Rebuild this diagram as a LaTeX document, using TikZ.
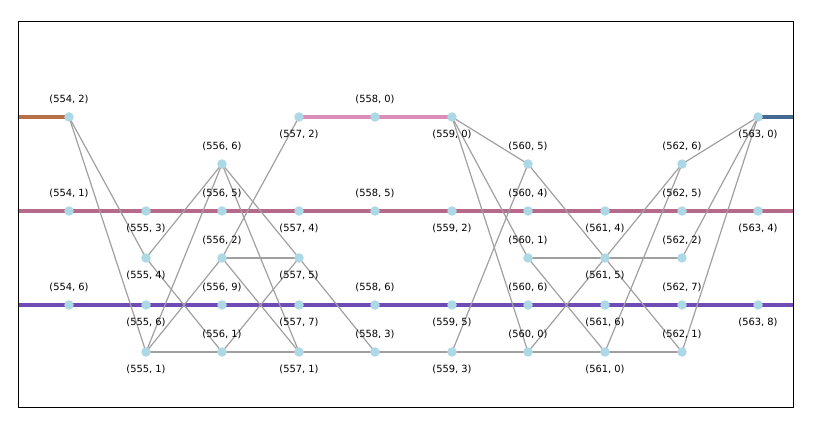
\documentclass[tikz,border=0pt]{standalone}
\usepackage{fontspec}
\setmainfont{DejaVu Sans}
\definecolor{dotblue}{RGB}{173,216,230}
\definecolor{edgegray}{RGB}{160,160,160}
\definecolor{cbrown}{RGB}{184,112,72}
\definecolor{cpink}{RGB}{219,142,184}
\definecolor{cmauve}{RGB}{181,106,140}
\definecolor{cpurple}{RGB}{111,76,181}
\definecolor{cblue}{RGB}{69,106,143}
\pgfdeclarelayer{bg}
\pgfsetlayers{bg,main}
\tikzset{
  dot/.style={circle,fill=dotblue,inner sep=0pt,outer sep=0pt,minimum size=9.5pt},
  lab/.style={font=\fontsize{9.9}{11}\selectfont,anchor=center,inner sep=0pt},
  edge/.style={draw=edgegray,line width=1.2pt},
  track/.style={line width=4.4pt},
  label distance=12.5pt
}
\begin{document}
\begin{tikzpicture}[x=1pt,y=-1pt]
\useasboundingbox (0,0) rectangle (814,430);
\coordinate (L117) at (18,117);
\coordinate (R117) at (793,117);
\coordinate (L211) at (18,211);
\coordinate (R211) at (793,211);
\coordinate (L305) at (18,305);
\coordinate (R305) at (793,305);
% nodes
\node[dot,label={[lab]90:(554, 2)}] (a554x2) at (69,117) {};
\node[dot,label={[lab]90:(554, 1)}] (a554x1) at (69,211) {};
\node[dot,label={[lab]90:(554, 6)}] (a554x6) at (69,305) {};
\node[dot,label={[lab]-90:(555, 3)}] (a555x3) at (146,211) {};
\node[dot,label={[lab]-90:(555, 4)}] (a555x4) at (146,258) {};
\node[dot,label={[lab]-90:(555, 6)}] (a555x6) at (146,305) {};
\node[dot,label={[lab]-90:(555, 1)}] (a555x1) at (146,352) {};
\node[dot,label={[lab]90:(556, 6)}] (a556x6) at (222,164) {};
\node[dot,label={[lab]90:(556, 5)}] (a556x5) at (222,211) {};
\node[dot,label={[lab]90:(556, 2)}] (a556x2) at (222,258) {};
\node[dot,label={[lab]90:(556, 9)}] (a556x9) at (222,305) {};
\node[dot,label={[lab]90:(556, 1)}] (a556x1) at (222,352) {};
\node[dot,label={[lab]-90:(557, 2)}] (a557x2) at (299,117) {};
\node[dot,label={[lab]-90:(557, 4)}] (a557x4) at (299,211) {};
\node[dot,label={[lab]-90:(557, 5)}] (a557x5) at (299,258) {};
\node[dot,label={[lab]-90:(557, 7)}] (a557x7) at (299,305) {};
\node[dot,label={[lab]-90:(557, 1)}] (a557x1) at (299,352) {};
\node[dot,label={[lab]90:(558, 0)}] (a558x0) at (375,117) {};
\node[dot,label={[lab]90:(558, 5)}] (a558x5) at (375,211) {};
\node[dot,label={[lab]90:(558, 6)}] (a558x6) at (375,305) {};
\node[dot,label={[lab]90:(558, 3)}] (a558x3) at (375,352) {};
\node[dot,label={[lab]-90:(559, 0)}] (a559x0) at (452,117) {};
\node[dot,label={[lab]-90:(559, 2)}] (a559x2) at (452,211) {};
\node[dot,label={[lab]-90:(559, 5)}] (a559x5) at (452,305) {};
\node[dot,label={[lab]-90:(559, 3)}] (a559x3) at (452,352) {};
\node[dot,label={[lab]90:(560, 5)}] (a560x5) at (528,164) {};
\node[dot,label={[lab]90:(560, 4)}] (a560x4) at (528,211) {};
\node[dot,label={[lab]90:(560, 1)}] (a560x1) at (528,258) {};
\node[dot,label={[lab]90:(560, 6)}] (a560x6) at (528,305) {};
\node[dot,label={[lab]90:(560, 0)}] (a560x0) at (528,352) {};
\node[dot,label={[lab]-90:(561, 4)}] (a561x4) at (605,211) {};
\node[dot,label={[lab]-90:(561, 5)}] (a561x5) at (605,258) {};
\node[dot,label={[lab]-90:(561, 6)}] (a561x6) at (605,305) {};
\node[dot,label={[lab]-90:(561, 0)}] (a561x0) at (605,352) {};
\node[dot,label={[lab]90:(562, 6)}] (a562x6) at (682,164) {};
\node[dot,label={[lab]90:(562, 5)}] (a562x5) at (682,211) {};
\node[dot,label={[lab]90:(562, 2)}] (a562x2) at (682,258) {};
\node[dot,label={[lab]90:(562, 7)}] (a562x7) at (682,305) {};
\node[dot,label={[lab]90:(562, 1)}] (a562x1) at (682,352) {};
\node[dot,label={[lab]-90:(563, 0)}] (a563x0) at (758,117) {};
\node[dot,label={[lab]-90:(563, 4)}] (a563x4) at (758,211) {};
\node[dot,label={[lab]-90:(563, 8)}] (a563x8) at (758,305) {};
% tracks and edges behind nodes
\begin{pgfonlayer}{bg}
\draw[track,cbrown] (L117) -- (a554x2.center);
\draw[track,cpink] (a557x2.center) -- (a559x0.center);
\draw[track,cblue] (a563x0.center) -- (R117);
\draw[track,cmauve] (L211) -- (R211);
\draw[track,cpurple] (L305) -- (R305);
\foreach \u/\v in {a554x2/a555x4,a554x2/a555x1,a555x4/a556x6,a555x4/a556x1,
  a555x1/a556x6,a555x1/a556x2,a555x1/a556x1,a556x6/a557x5,a556x6/a557x1,
  a556x2/a557x2,a556x2/a557x5,a556x2/a557x1,a556x1/a557x5,a556x1/a557x1,
  a557x5/a558x3,a557x1/a558x3,a558x3/a559x3,a559x0/a560x5,a559x0/a560x1,
  a559x0/a560x0,a559x3/a560x5,a559x3/a560x0,a560x5/a561x5,a560x1/a561x5,
  a560x1/a561x0,a560x0/a561x5,a560x0/a561x0,a561x5/a562x6,a561x5/a562x2,
  a561x5/a562x1,a561x0/a562x6,a561x0/a562x1,a562x6/a563x0,a562x2/a563x0,
  a562x1/a563x0}
  \draw[edge] (\u.center) -- (\v.center);
\end{pgfonlayer}
\draw[line width=1pt] (18,22) rectangle (793,407);
\end{tikzpicture}
\end{document}
